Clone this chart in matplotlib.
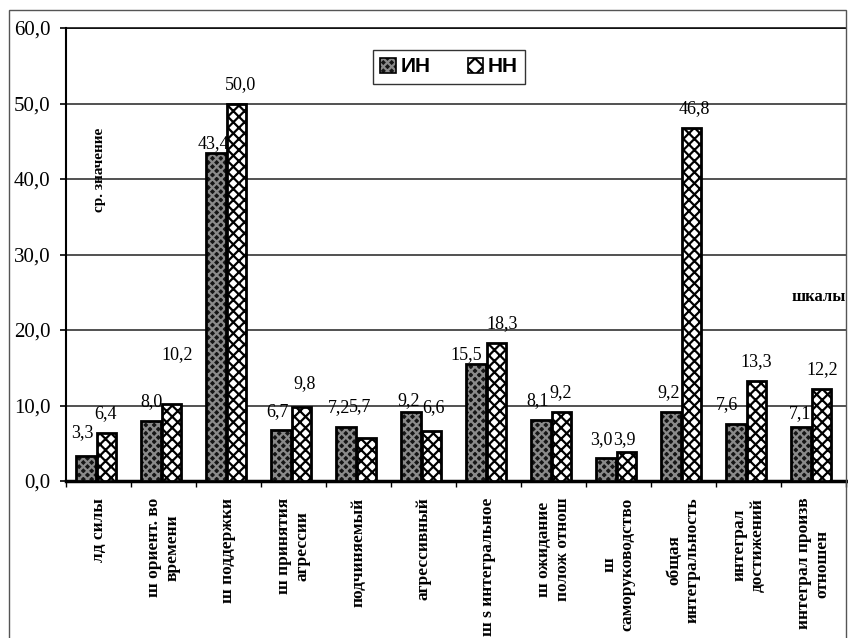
import numpy as np
import matplotlib
matplotlib.use("Agg")
import matplotlib.pyplot as plt
from matplotlib.patches import Rectangle, Patch
from matplotlib.legend_handler import HandlerTuple

categories = [
    "лд силы",
    "ш ориент. во\nвремени",
    "ш поддержки",
    "ш принятия\nагрессии",
    "подчиняемый",
    "агрессивный",
    "ш s интегральное",
    "ш ожидание\nполож отнош",
    "ш\nсаморуководство",
    "общая\nинтегральность",
    "интеграл\nдостижений",
    "интеграл произв\nотношен",
]
in_values = [3.3, 8.0, 43.4, 6.7, 7.2, 9.2, 15.5, 8.1, 3.0, 9.2, 7.6, 7.1]
nn_values = [6.4, 10.2, 50.0, 9.8, 5.7, 6.6, 18.3, 9.2, 3.9, 46.8, 13.3, 12.2]
series_names = ["ИН", "НН"]
y_ticks = [0, 10, 20, 30, 40, 50, 60]

# extra nudges for the value labels (pixels), like hand-moved labels in the scan
in_nudge = [(-4, 4), (0, 0), (-3, -9), (-4, 0), (-7, 0), (-3, -8), (-10, -10), (-4, 0), (-5, 0), (-3, 0), (-9, 0), (-1, -5)]
nn_nudge = [(-1, 0), (6, 30), (4, 0), (3, 4), (-6, 12), (2, 5), (6, 0), (-1, 0), (-2, -7), (3, 0), (0, 0), (1, 0)]

plt.rcParams['hatch.linewidth'] = 1.6
serif = ['Liberation Serif', 'DejaVu Serif']
dark_fill = '#151515'
dark_hatch = '#8a8a8a'

fig = plt.figure(figsize=(8.48, 6.38), dpi=100)
ax = fig.add_axes([66 / 848, 1 - 481 / 638, 780 / 848, 453 / 638])

# outer frame of the scanned sheet
fig.patches.append(Rectangle((9 / 848, -0.01), 837 / 848, 1 - 10 / 638 + 0.01,
                             transform=fig.transFigure, fill=False,
                             edgecolor='#555555', linewidth=1.0))

x = np.arange(len(categories))
w = 0.3
x_in = x - 0.19
x_nn = x + 0.12

# dark bars: dark fill with light dot grid
ax.bar(x_in, in_values, w, color=dark_fill, edgecolor=dark_hatch, hatch='xxxx', linewidth=0, zorder=3)
ax.bar(x_in, in_values, w, fill=False, edgecolor='black', linewidth=2.0, zorder=4)
# light bars: white with black cross hatch
ax.bar(x_nn, nn_values, w, color='white', edgecolor='black', hatch='xxx', linewidth=0, zorder=3)
ax.bar(x_nn, nn_values, w, fill=False, edgecolor='black', linewidth=2.0, zorder=4)

px = 72 / 100  # pixel -> points
for xi, v, (dx, dy) in zip(x_in, in_values, in_nudge):
    ax.annotate(f"{v:.1f}".replace('.', ','), (xi, v), xytext=(dx * px, (19 + dy) * px),
                textcoords='offset points', ha='center', va='center',
                fontsize=13, family=serif, zorder=5)
for xi, v, (dx, dy) in zip(x_nn, nn_values, nn_nudge):
    ax.annotate(f"{v:.1f}".replace('.', ','), (xi, v), xytext=(dx * px, (19 + dy) * px),
                textcoords='offset points', ha='center', va='center',
                fontsize=13, family=serif, zorder=5)

ax.set_xlim(-0.5, len(categories) - 0.5)
ax.set_ylim(0, 60)
ax.set_yticks(y_ticks)
ax.set_yticklabels([f"{t:.1f}".replace('.', ',') for t in y_ticks], family=serif, fontsize=15)
ax.tick_params(axis='y', length=4, width=1.2, pad=7)

ax.set_xticks(x)
ax.set_xticklabels(categories, rotation=90, family=serif, fontweight='bold',
                   fontsize=12.5, ha='center', va='top', multialignment='center')
ax.set_xticks(np.arange(len(categories) + 1) - 0.5, minor=True)
ax.tick_params(axis='x', which='major', length=0, pad=12)
ax.tick_params(axis='x', which='minor', length=4, width=1.0)

ax.grid(axis='y', color='#222222', linewidth=1.1, zorder=0)
ax.set_axisbelow(True)
ax.spines['right'].set_visible(False)
ax.spines['top'].set_linewidth(1.1)
ax.spines['left'].set_linewidth(1.5)
ax.spines['bottom'].set_linewidth(2.5)

# axis titles drawn inside the plot like in the source
fig.text(100 / 848, 1 - 170 / 638, "ср. значение", rotation=90, ha='center', va='center',
         family=serif, fontweight='bold', fontsize=11)
fig.text(846 / 848, 1 - 297 / 638, "шкалы", ha='right', va='center',
         family=serif, fontweight='bold', fontsize=12)

handles = [
    (Patch(facecolor=dark_fill, edgecolor=dark_hatch, hatch='xxxx', linewidth=0),
     Patch(fill=False, edgecolor='black', linewidth=1.2)),
    (Patch(facecolor='white', edgecolor='black', hatch='xx', linewidth=0),
     Patch(fill=False, edgecolor='black', linewidth=1.2)),
]
leg = ax.legend(handles, series_names, ncol=2, loc='center',
                handler_map={tuple: HandlerTuple(ndivide=1, pad=0)},
                bbox_to_anchor=(449 / 848, 1 - 67 / 638), bbox_transform=fig.transFigure,
                prop={'family': ['Liberation Sans', 'DejaVu Sans'], 'weight': 'bold', 'size': 15},
                fancybox=False, framealpha=1, edgecolor='#333333',
                handlelength=0.75, handleheight=0.75, handletextpad=0.2, columnspacing=1.8,
                borderpad=0.35)
leg.get_frame().set_linewidth(1.0)
leg.set_zorder(6)

fig.savefig("out.png", dpi=100, facecolor='white')
